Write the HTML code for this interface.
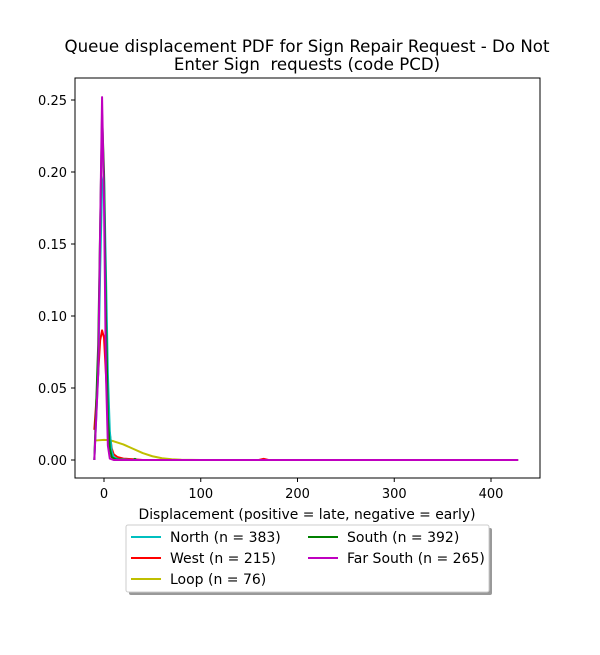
<!DOCTYPE html>
<html><head><meta charset="utf-8">
<style>
body{margin:0;background:#fff;font-family:"Liberation Sans","DejaVu Sans",sans-serif;}
svg text{font-family:"DejaVu Sans","Liberation Sans",sans-serif;white-space:pre;}
</style></head>
<body>
<svg id="chart" width="600" height="650" xmlns="http://www.w3.org/2000/svg">
<rect x="0" y="0" width="600" height="650" fill="#fff"/>
<text x="307" y="52" text-anchor="middle" font-size="16.6" textLength="485" lengthAdjust="spacingAndGlyphs">Queue displacement PDF for Sign Repair Request - Do Not</text>
<text x="307" y="70" text-anchor="middle" font-size="16.6" xml:space="preserve">Enter Sign  requests (code PCD)</text>
<g id="plot"></g>
<rect x="75" y="78" width="465" height="400" fill="none" stroke="#000" stroke-width="1"/>
<g id="axes"></g>
<text x="307" y="519" text-anchor="middle" font-size="14" textLength="337" lengthAdjust="spacingAndGlyphs">Displacement (positive = late, negative = early)</text>
<g>
<rect x="129" y="528" width="363" height="67" fill="#999" rx="2"/>
<rect x="126" y="525" width="363" height="67" fill="#fff" stroke="#ccc" rx="2"/>
<g id="legend"></g>
</g>
</svg>
<script>
const xTicks=[0,100,200,300,400];
const yTicks=[0.00,0.05,0.10,0.15,0.20,0.25];
const seriesNames=["North (n = 383)","West (n = 215)","Loop (n = 76)","South (n = 392)","Far South (n = 265)"];
const seriesColors=["#00bfbf","#ff0000","#bfbf00","#008000","#bf00bf"];
const northX=[-10,-6,-4,-2,0,2,4,6,8,10,15,30,428];
const northY=[0,0.06,0.13,0.19,0.2,0.13,0.06,0.02,0.006,0.002,0.0005,0,0];
const westX=[-10,-6,-4,-2,0,2,4,6,8,10,14,20,30,40,160,165,170,428];
const westY=[0.021,0.06,0.083,0.09,0.085,0.06,0.035,0.018,0.008,0.004,0.002,0.001,0.0005,0,0,0.0008,0,0];
const loopX=[-10,0,5,10,20,30,40,50,60,70,80,100,428];
const loopY=[0.0135,0.014,0.0138,0.013,0.0108,0.0078,0.0048,0.0026,0.0012,0.0005,0.0002,0,0];
const southX=[-10,-6,-4,-2,0,2,4,6,8,12,20,30,32,34,428];
const southY=[0,0.08,0.16,0.24,0.2,0.1,0.03,0.008,0.002,0.0005,0,0,0.0008,0,0];
const farSouthX=[-10,-6,-4,-2,0,2,4,6,10,428];
const farSouthY=[0,0.06,0.16,0.252,0.18,0.06,0.01,0.001,0,0];
const seriesX=[northX,westX,loopX,southX,farSouthX];
const seriesY=[northY,westY,loopY,southY,farSouthY];
const NS="http://www.w3.org/2000/svg";
const sx=v=>104+(v)*0.9675;
const sy=v=>460-v*1440;
const plot=document.getElementById('plot');
const order=[2,1,0,3,4];
order.forEach(i=>{
  const p=document.createElementNS(NS,'polyline');
  p.setAttribute('points',seriesX[i].map((x,k)=>sx(x)+','+sy(seriesY[i][k])).join(' '));
  p.setAttribute('fill','none');p.setAttribute('stroke',seriesColors[i]);p.setAttribute('stroke-width','2');
  p.setAttribute('stroke-linejoin','round');
  
  
  plot.appendChild(p);
});
const axes=document.getElementById('axes');
xTicks.forEach(t=>{
  const l=document.createElementNS(NS,'line');
  l.setAttribute('x1',sx(t));l.setAttribute('x2',sx(t));l.setAttribute('y1',478);l.setAttribute('y2',482);l.setAttribute('stroke','#000');
  
  
  axes.appendChild(l);
  const tx=document.createElementNS(NS,'text');
  tx.setAttribute('x',sx(t));tx.setAttribute('y',498);tx.setAttribute('text-anchor','middle');tx.setAttribute('font-size','13');
  tx.textContent=t;
  
  
  axes.appendChild(tx);
});
yTicks.forEach(t=>{
  const l=document.createElementNS(NS,'line');
  l.setAttribute('x1',71);l.setAttribute('x2',75);l.setAttribute('y1',sy(t));l.setAttribute('y2',sy(t));l.setAttribute('stroke','#000');
  
  
  axes.appendChild(l);
  const tx=document.createElementNS(NS,'text');
  tx.setAttribute('x',67);tx.setAttribute('y',sy(t)+5);tx.setAttribute('text-anchor','end');tx.setAttribute('font-size','13');
  tx.textContent=t.toFixed(2);
  
  
  axes.appendChild(tx);
});
const leg=document.getElementById('legend');
const pos=[[131,537],[131,558],[131,579],[308,537],[308,558]];
seriesNames.forEach((n,i)=>{
  const l=document.createElementNS(NS,'line');
  l.setAttribute('x1',pos[i][0]);l.setAttribute('x2',pos[i][0]+30);l.setAttribute('y1',pos[i][1]);l.setAttribute('y2',pos[i][1]);
  l.setAttribute('stroke',seriesColors[i]);l.setAttribute('stroke-width','2');
  
  
  leg.appendChild(l);
  const tx=document.createElementNS(NS,'text');
  tx.setAttribute('x',pos[i][0]+39);tx.setAttribute('y',pos[i][1]+5);tx.setAttribute('font-size','14');
  tx.textContent=n;
  
  
  leg.appendChild(tx);
});
</script>
</body></html>
